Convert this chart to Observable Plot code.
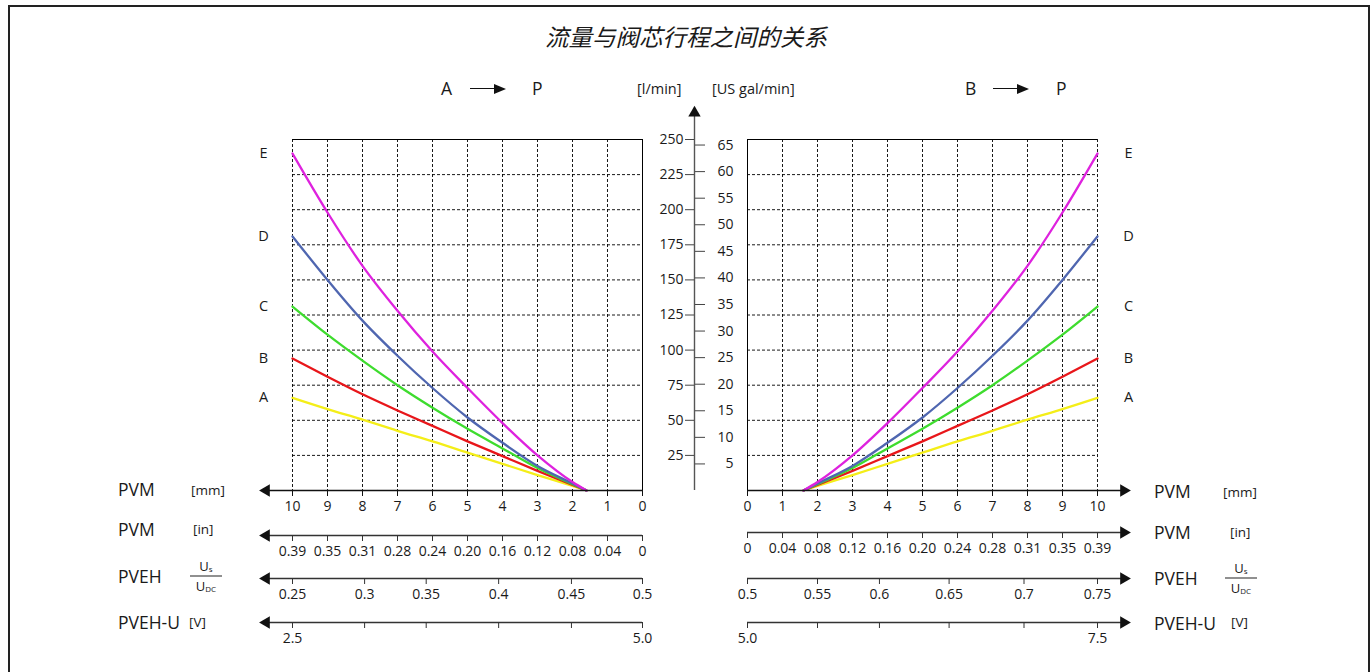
<!DOCTYPE html>
<html>
<head>
<meta charset="utf-8">
<script src="https://cdn.jsdelivr.net/npm/d3@7"></script>
<script src="https://cdn.jsdelivr.net/npm/@observablehq/plot@0.6"></script>
<style>
  body { margin: 0; background: #fff; }
  #root { position: relative; width: 1370px; height: 672px; overflow: hidden; font-family: 'Open Sans', 'Noto Sans', sans-serif; color: #1a1a1a; background: #fff; }
  .abs { position: absolute; white-space: nowrap; line-height: 1; }
  .vc { transform: translateY(-50%); }
  .frame { position: absolute; left: 8px; top: 5px; width: 1362px; height: 720px; border: 2px solid #222; box-sizing: border-box; }
  .title { position: absolute; left: 0; width: 1372px; top: 25px; text-align: center; font-family: 'Noto Sans CJK SC', sans-serif; font-style: italic; font-size: 23.5px; line-height: 1; color: #1a1a1a; }
  .big { font-size: 17.5px; }
  .unit { font-size: 13.5px; }
  .hdr { font-size: 14.5px; }
  .arrowline { position: absolute; height: 1.4px; background: #111; }
  .arrowhead { position: absolute; width: 0; height: 0; border-top: 5px solid transparent; border-bottom: 5px solid transparent; border-left: 12px solid #111; }
  .frac { position: absolute; width: 32px; text-align: center; font-size: 13px; line-height: 1; }
  .frac .num { display: block; padding-bottom: 3px; border-bottom: 1px solid #222; }
  .frac .den { display: block; padding-top: 3px; }
  .frac sub { font-size: 8px; vertical-align: -1px; }
  .plot { position: absolute; }
</style>
</head>
<body>
<div id="root"></div>
<script>
// ---------------- data ----------------
const seriesNames = ["A", "B", "C", "D", "E"];
const seriesColors = ["#f4ee18", "#e8161a", "#3edc2e", "#4f66b0", "#de22de"];
// spool travel (mm) at which flow readings were taken
const strokeMm = [1.6, 2, 3, 4, 5, 6, 7, 8, 9, 10];
// flow [l/min] for each spool size
const flowA = [0, 3.2, 11, 19, 27, 35, 42.5, 50.5, 58, 66];
const flowB = [0, 4, 14, 24.5, 35, 46, 57, 68.5, 81, 94];
const flowC = [0, 4.5, 16, 30, 44, 59, 75, 92.5, 111, 131];
const flowD = [0, 5, 17.5, 34, 52, 73, 96, 121, 150, 181];
const flowE = [0, 6, 25, 48, 73, 99, 128, 160, 198, 240];
const flows = [flowA, flowB, flowC, flowD, flowE];

// axis ticks
const mmTicks = [0, 1, 2, 3, 4, 5, 6, 7, 8, 9, 10];
const inchLabels = ["0", "0.04", "0.08", "0.12", "0.16", "0.20", "0.24", "0.28", "0.31", "0.35", "0.39"];
const pvehLeftLabels = ["0.25", "0.3", "0.35", "0.4", "0.45", "0.5"];
const pvehLeftAtMm = [10, 7.94, 6.18, 4.11, 2.03, 0];
const pvehRightLabels = ["0.5", "0.55", "0.6", "0.65", "0.7", "0.75"];
const pvehRightAtMm = [0, 2.0, 3.77, 5.76, 7.9, 10];
const voltLeftLabels = ["2.5", "", "", "", "", "5.0"];
const voltRightLabels = ["5.0", "", "", "", "", "7.5"];
const flowTicksLpm = [25, 50, 75, 100, 125, 150, 175, 200, 225, 250];
const flowTicksGal = [5, 10, 15, 20, 25, 30, 35, 40, 45, 50, 55, 60, 65];
const litresPerGallon = 3.78541;
const axisArrowMm = 10.75;      // end of the travel axes (arrow head)
const flowArrowLpm = 269;       // end of the flow axis (arrow head)

// ---------------- layout helpers ----------------
const root = document.getElementById("root");
function addHTML(html) { root.insertAdjacentHTML("beforeend", html); }
function place(el, left, top) {
  el.classList.add("plot");
  el.style.left = left + "px";
  el.style.top = top + "px";
  root.appendChild(el);
}
const TICK_FONT = 14;
const plotStyle = "font-family:'Open Sans','Noto Sans',sans-serif;font-size:14px;color:#1a1a1a;background:transparent;overflow:visible;";

const sides = {
  left:  {svgLeft: 230, marginLeft: 62, marginRight: 18, reverse: true, labelDx: -29, rot: -90, inchLine: 535},
  right: {svgLeft: 730, marginLeft: 17, marginRight: 63, reverse: false, labelDx: 31, rot: 90, inchLine: 532}
};
const PANEL_W = 430;

function mainPanel(sideKey) {
  const s = sides[sideKey];
  const rows = seriesNames.flatMap((name, k) => strokeMm.map((mm, i) => ({name, mm, flow: flows[k][i]})));
  const ends = seriesNames.map((name, k) => ({name, mm: strokeMm[strokeMm.length - 1], flow: flows[k][flows[k].length - 1]}));
  return Plot.plot({
    width: PANEL_W, height: 400,
    marginLeft: s.marginLeft, marginRight: s.marginRight, marginTop: 19, marginBottom: 30,
    style: plotStyle,
    x: {domain: [0, 10], reverse: s.reverse, axis: null, label: null},
    y: {domain: [0, 250], axis: null, label: null},
    color: {domain: seriesNames, range: seriesColors},
    marks: [
      Plot.gridX(mmTicks.filter(d => d !== 0), {stroke: "#000", strokeOpacity: 1, strokeWidth: 0.9, strokeDasharray: "3,2"}),
      Plot.gridY(flowTicksLpm.filter(d => d !== 250), {stroke: "#000", strokeOpacity: 1, strokeWidth: 0.9, strokeDasharray: "3,2"}),
      Plot.ruleX([{x: 0}], {x: "x", stroke: "#000", strokeWidth: 1}),
      Plot.ruleY([{y: 250}], {y: "y", stroke: "#000", strokeWidth: 1}),
      Plot.line(rows, {x: "mm", y: "flow", z: "name", stroke: "name", curve: "monotone-x", strokeWidth: 2.3}),
      Plot.ruleY([{y: 0, a: 0, b: axisArrowMm}], {y: "y", x1: "a", x2: "b", stroke: "#111", strokeWidth: 1.3}),
      Plot.dot([{y: 0, x: axisArrowMm}], {x: "x", y: "y", symbol: "triangle", r: 4.6, fill: "#111", stroke: null, rotate: s.rot}),
      Plot.axisX(mmTicks, {anchor: "bottom", tickSize: 6, tickPadding: 5, fontSize: TICK_FONT, label: null, stroke: "#111"}),
      Plot.text(ends, {x: "mm", y: "flow", text: "name", dx: s.labelDx, fontSize: 14.5, fill: "#1a1a1a"})
    ]
  });
}

function axisRow(sideKey, ticksMm, labels) {
  const s = sides[sideKey];
  const lab = new Map(ticksMm.map((t, i) => [t, labels[i]]));
  return Plot.plot({
    width: PANEL_W, height: 34,
    marginLeft: s.marginLeft, marginRight: s.marginRight, marginTop: 5, marginBottom: 29,
    style: plotStyle,
    x: {domain: [0, 10], reverse: s.reverse, axis: null, label: null},
    y: {domain: [0, 1], axis: null, label: null},
    marks: [
      Plot.ruleY([{y: 0, a: 0, b: axisArrowMm}], {y: "y", x1: "a", x2: "b", stroke: "#333", strokeWidth: 1.3}),
      Plot.dot([{y: 0, x: axisArrowMm}], {x: "x", y: "y", symbol: "triangle", r: 4.6, fill: "#111", stroke: null, rotate: s.rot}),
      Plot.axisX(ticksMm, {anchor: "bottom", tickSize: 6, tickPadding: 5, fontSize: TICK_FONT, label: null, stroke: "#333",
        tickFormat: d => lab.get(d)})
    ]
  });
}

function flowAxis() {
  return Plot.plot({
    width: 120, height: 410,
    marginLeft: 64, marginRight: 56, marginTop: 49, marginBottom: 10,
    style: plotStyle,
    x: {domain: [0, 1], axis: null, label: null},
    y: {domain: [0, 250], axis: null, label: null},
    marks: [
      Plot.ruleX([{x: 0, a: 0, b: flowArrowLpm - 2}], {x: "x", y1: "a", y2: "b", stroke: "#555", strokeWidth: 1.4}),
      Plot.dot([{x: 0, y: flowArrowLpm}], {x: "x", y: "y", symbol: "triangle", r: 4.6, fill: "#111", stroke: null}),
      Plot.axisY(flowTicksLpm, {anchor: "left", tickSize: 9, tickPadding: 2, fontSize: TICK_FONT, label: null, stroke: "#444", fill: "#1a1a1a"}),
      Plot.axisY(flowTicksGal.map(g => g * litresPerGallon), {anchor: "right", tickSize: 10, tickPadding: 29, textAnchor: "end",
        fontSize: TICK_FONT, label: null, stroke: "#444", fill: "#1a1a1a", tickFormat: d => String(Math.round(d / litresPerGallon))})
    ]
  });
}

// ---------------- static text ----------------
addHTML(`<div class="frame"></div>`);
addHTML(`<div class="title">流量与阀芯行程之间的关系</div>`);
// direction headers
addHTML(`<div class="abs big vc" style="left:441px;top:89px;">A</div>
  <div class="arrowline" style="left:470px;top:88px;width:26px;"></div>
  <div class="arrowhead" style="left:494px;top:84px;"></div>
  <div class="abs big vc" style="left:532px;top:89px;">P</div>`);
addHTML(`<div class="abs big vc" style="left:965px;top:89px;">B</div>
  <div class="arrowline" style="left:993px;top:88px;width:26px;"></div>
  <div class="arrowhead" style="left:1017px;top:84px;"></div>
  <div class="abs big vc" style="left:1056px;top:89px;">P</div>`);
addHTML(`<div class="abs hdr vc" style="left:637px;top:89px;">[l/min]</div>
  <div class="abs hdr vc" style="left:712px;top:89px;">[US gal/min]</div>`);

// row labels, left
addHTML(`<div class="abs big vc" style="left:118px;top:490px;">PVM</div>
  <div class="abs unit vc" style="left:191px;top:491px;">[mm]</div>
  <div class="abs big vc" style="left:118px;top:530px;">PVM</div>
  <div class="abs unit vc" style="left:193px;top:530px;">[in]</div>
  <div class="abs big vc" style="left:118px;top:577px;">PVEH</div>
  <div class="frac vc" style="left:190px;top:576px;"><span class="num">U<sub>s</sub></span><span class="den">U<sub>DC</sub></span></div>
  <div class="abs big vc" style="left:118px;top:623px;">PVEH-U</div>
  <div class="abs unit vc" style="left:189px;top:623px;">[V]</div>`);
// row labels, right
addHTML(`<div class="abs big vc" style="left:1154px;top:492px;">PVM</div>
  <div class="abs unit vc" style="left:1223px;top:493px;">[mm]</div>
  <div class="abs big vc" style="left:1154px;top:533px;">PVM</div>
  <div class="abs unit vc" style="left:1230px;top:533px;">[in]</div>
  <div class="abs big vc" style="left:1154px;top:579px;">PVEH</div>
  <div class="frac vc" style="left:1225px;top:578px;"><span class="num">U<sub>s</sub></span><span class="den">U<sub>DC</sub></span></div>
  <div class="abs big vc" style="left:1154px;top:624px;">PVEH-U</div>
  <div class="abs unit vc" style="left:1231px;top:623px;">[V]</div>`);

// ---------------- plots ----------------
place(mainPanel("left"), sides.left.svgLeft, 120);
place(mainPanel("right"), sides.right.svgLeft, 120);
place(flowAxis(), 630, 90);

const ROW_TOP_OFFSET = 5;
place(axisRow("left", mmTicks, inchLabels), sides.left.svgLeft, sides.left.inchLine - ROW_TOP_OFFSET);
place(axisRow("right", mmTicks, inchLabels), sides.right.svgLeft, sides.right.inchLine - ROW_TOP_OFFSET);
place(axisRow("left", pvehLeftAtMm, pvehLeftLabels), sides.left.svgLeft, 578 - ROW_TOP_OFFSET);
place(axisRow("right", pvehRightAtMm, pvehRightLabels), sides.right.svgLeft, 578 - ROW_TOP_OFFSET);
place(axisRow("left", pvehLeftAtMm, voltLeftLabels), sides.left.svgLeft, 622 - ROW_TOP_OFFSET);
place(axisRow("right", pvehRightAtMm, voltRightLabels), sides.right.svgLeft, 622 - ROW_TOP_OFFSET);
</script>
</body>
</html>
